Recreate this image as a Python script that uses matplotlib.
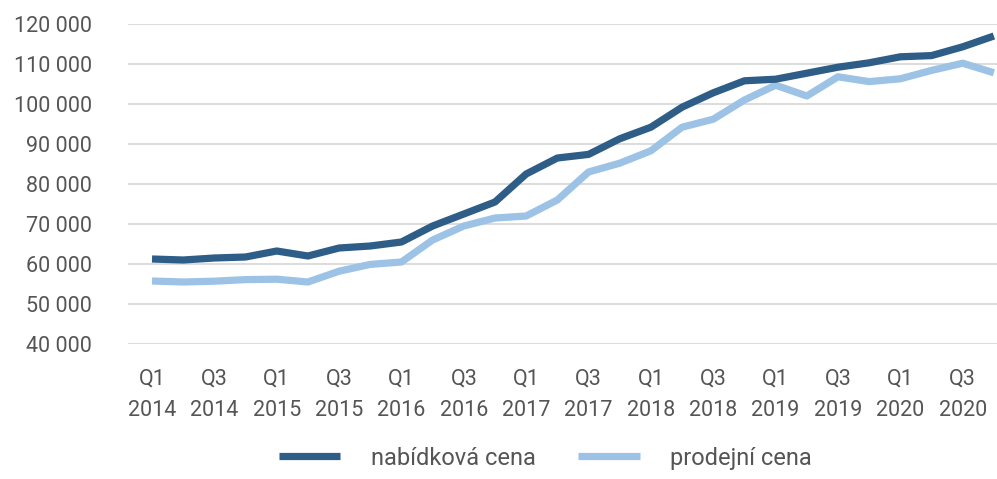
import matplotlib
matplotlib.use('Agg')
import matplotlib.pyplot as plt
from matplotlib.ticker import FuncFormatter

# Quarterly data Q1 2014 - Q4 2020
quarters = ['Q1', 'Q2', 'Q3', 'Q4'] * 7
years = [y for y in range(2014, 2021) for _ in range(4)]

nabidkova = [61250, 61000, 61500, 61750, 63250, 62000, 64000, 64500,
             65500, 69500, 72500, 75500, 82500, 86500, 87400, 91300,
             94200, 99200, 102800, 105800, 106200, 107700, 109200, 110300,
             111800, 112100, 114300, 117000]
prodejni = [55750, 55500, 55700, 56100, 56200, 55500, 58200, 59900,
            60500, 66000, 69500, 71500, 72000, 76000, 83000, 85200,
            88300, 94200, 96200, 101000, 104700, 102000, 106800, 105600,
            106300, 108400, 110200, 107800]

dark = '#2e5d87'
light = '#9cc3e5'
text_col = '#555555'

plt.rcParams['font.family'] = ['Roboto', 'DejaVu Sans']

fig = plt.figure(figsize=(9.97, 4.79), dpi=100)
ax = fig.add_axes([128 / 997, 135 / 479, 869 / 997, 320 / 479])

x = list(range(len(nabidkova)))
ax.plot(x, nabidkova, color=dark, lw=5.2, solid_capstyle='butt',
        label='nabídková cena', clip_on=False, zorder=3)
ax.plot(x, prodejni, color=light, lw=5.2, solid_capstyle='butt',
        label='prodejní cena', clip_on=False, zorder=2)

ax.set_xlim(-0.77, 27.1)
ax.set_ylim(40000, 120000)
ax.set_yticks(range(40000, 120001, 10000))
ax.yaxis.set_major_formatter(FuncFormatter(lambda v, p: f'{int(v):,}'.replace(',', ' ')))
ax.set_xticks(x[::2])
ax.set_xticklabels([f'{q}\n{y}' for q, y in zip(quarters[::2], years[::2])],
                   linespacing=1.65)

ax.grid(axis='y', color='#d9d9d9', lw=1.3)
ax.set_axisbelow(True)
for s in ax.spines.values():
    s.set_visible(False)
ax.tick_params(axis='both', length=0, labelsize=15.5, colors=text_col)
ax.tick_params(axis='y', pad=26)
ax.tick_params(axis='x', pad=18)

fig.legend(loc='lower center', bbox_to_anchor=(0.547, -0.025), ncol=2, frameon=False,
           fontsize=17, handlelength=2.6, handletextpad=1.3, columnspacing=1.8,
           labelcolor=text_col)

fig.savefig('out.png', dpi=100)
